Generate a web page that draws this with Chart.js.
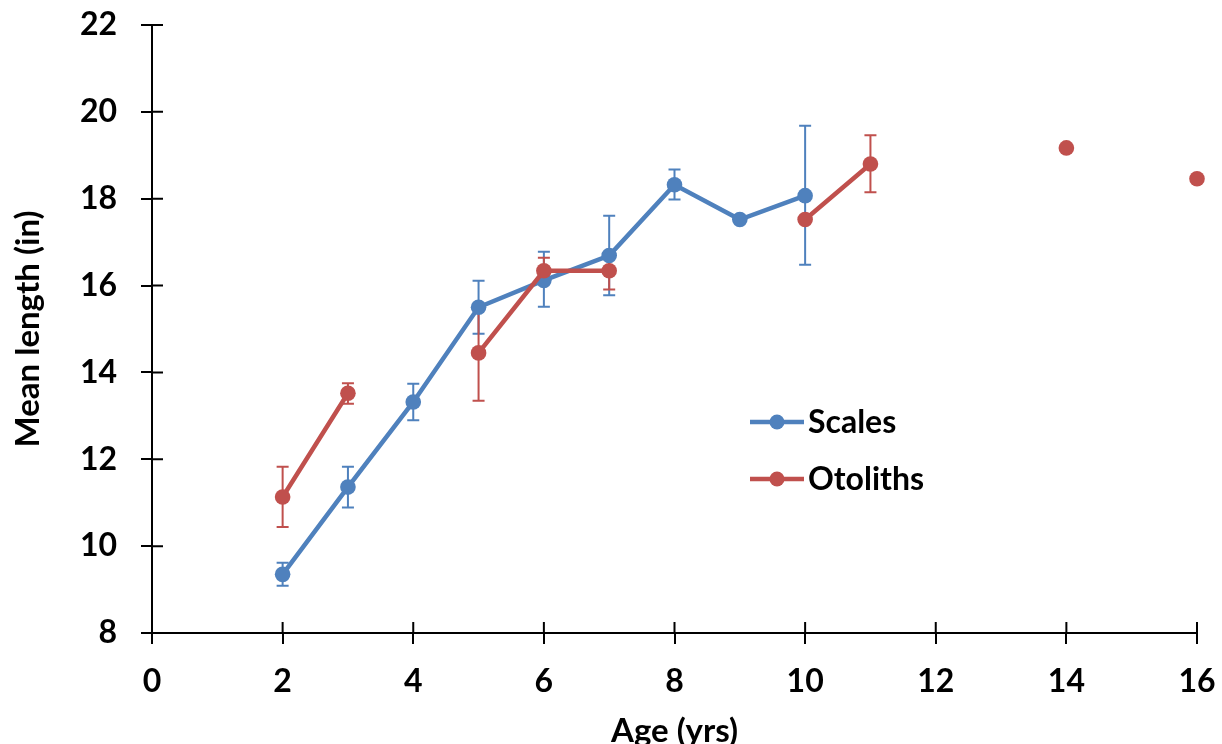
<!DOCTYPE html>
<html>
<head>
<meta charset="utf-8">
<script src="https://cdn.jsdelivr.net/npm/chart.js@4/dist/chart.umd.min.js"></script>
<style>
  body { margin: 0; background: #fff; }
</style>
</head>
<body>
<canvas id="grafico" width="1222" height="744"></canvas>
<script>
// Escamas: edad, longitud media y extremos de la barra de error
const edadesEscamas = [2, 3, 4, 5, 6, 7, 8, 9, 10];
const mediaEscamas = [9.35, 11.36, 13.32, 15.50, 16.12, 16.69, 18.32, 17.52, 18.07];
const bajoEscamas = [9.09, 10.89, 12.90, 14.89, 15.51, 15.78, 17.98, null, 16.48];
const altoEscamas = [9.62, 11.83, 13.74, 16.11, 16.78, 17.61, 18.67, null, 19.68];

// Otolitos: los null cortan la línea entre edades sin dato
const edadesOtolitos = [2, 3, 4, 5, 6, 7, 8, 10, 11, 12, 14, 15, 16];
const mediaOtolitos = [11.13, 13.52, null, 14.45, 16.34, 16.34, null, 17.52, 18.80, null, 19.17, null, 18.46];
const bajoOtolitos = [10.44, 13.28, null, 13.35, 16.04, 15.91, null, null, 18.15, null, null, null, null];
const altoOtolitos = [11.83, 13.75, null, 15.55, 16.64, 16.77, null, null, 19.46, null, null, null, null];

// Marcas de los ejes
const marcasX = [0, 2, 4, 6, 8, 10, 12, 14, 16];
const marcasY = [8, 10, 12, 14, 16, 18, 20, 22];

const AZUL = '#4F81BD';
const ROJO = '#C0504D';
const FUENTE = 'Lato, "Liberation Sans", sans-serif';

function puntos(edades, medias) {
    return edades.map((e, i) => ({ x: e, y: medias[i] }));
}

// Dibuja las barras de error de cada serie usando las escalas del gráfico
const barrasError = {
    id: 'barrasError',
    beforeDatasetsDraw(chart) {
        const ctx = chart.ctx;
        const sx = chart.scales.x, sy = chart.scales.y;
        ctx.save();
        chart.data.datasets.forEach(ds => {
            ctx.strokeStyle = ds.borderColor;
            ctx.lineWidth = 2;
            ds.data.forEach((p, i) => {
                const lo = ds.bajo[i], hi = ds.alto[i];
                if (lo == null || hi == null) return;
                const px = sx.getPixelForValue(p.x);
                const y1 = sy.getPixelForValue(lo);
                const y2 = sy.getPixelForValue(hi);
                ctx.beginPath();
                ctx.moveTo(px, y1); ctx.lineTo(px, y2);
                ctx.moveTo(px - 6, y1); ctx.lineTo(px + 6, y1);
                ctx.moveTo(px - 6, y2); ctx.lineTo(px + 6, y2);
                ctx.stroke();
            });
        });
        ctx.restore();
    }
};

// Parte interior de las marcas (cruzan el eje)
const marcasInteriores = {
    id: 'marcasInteriores',
    beforeDatasetsDraw(chart) {
        const ctx = chart.ctx;
        const sx = chart.scales.x, sy = chart.scales.y;
        const area = chart.chartArea;
        ctx.save();
        ctx.strokeStyle = '#000';
        ctx.lineWidth = 2;
        ctx.beginPath();
        sx.ticks.forEach(t => {
            const px = sx.getPixelForValue(t.value);
            ctx.moveTo(px, area.bottom); ctx.lineTo(px, area.bottom - 11);
        });
        sy.ticks.forEach(t => {
            const py = sy.getPixelForValue(t.value);
            ctx.moveTo(area.left, py); ctx.lineTo(area.left + 11, py);
        });
        ctx.stroke();
        ctx.restore();
    }
};

// Leyenda dentro del área del gráfico
const leyenda = {
    id: 'leyenda',
    afterDraw(chart) {
        const ctx = chart.ctx;
        ctx.save();
        chart.data.datasets.forEach((ds, i) => {
            const yy = 422 + i * 57;
            ctx.strokeStyle = ds.borderColor;
            ctx.lineWidth = 4.5;
            ctx.beginPath();
            ctx.moveTo(750, yy); ctx.lineTo(804, yy);
            ctx.stroke();
            ctx.fillStyle = ds.borderColor;
            ctx.beginPath();
            ctx.arc(777, yy, 7.5, 0, Math.PI * 2);
            ctx.fill();
            ctx.fillStyle = '#000';
            ctx.font = 'bold 32px ' + FUENTE;
            ctx.textBaseline = 'middle';
            ctx.fillText(ds.label, 808, yy + 1);
        });
        ctx.restore();
    }
};

const ctx = document.getElementById('grafico').getContext('2d');
const grafico = new Chart(ctx, {
    type: 'line',
    data: {
        datasets: [{
            label: 'Scales',
            data: puntos(edadesEscamas, mediaEscamas),
            bajo: bajoEscamas,
            alto: altoEscamas,
            borderColor: AZUL,
            backgroundColor: AZUL,
            pointBackgroundColor: AZUL,
            borderWidth: 4.5,
            pointRadius: 7.8,
            pointBorderWidth: 0,
            clip: false,
            order: 1
        }, {
            label: 'Otoliths',
            data: puntos(edadesOtolitos, mediaOtolitos),
            bajo: bajoOtolitos,
            alto: altoOtolitos,
            borderColor: ROJO,
            backgroundColor: ROJO,
            pointBackgroundColor: ROJO,
            borderWidth: 4.5,
            pointRadius: 7.8,
            pointBorderWidth: 0,
            clip: false,
            order: 0
        }]
    },
    options: {
        responsive: false,
        animation: false,
        devicePixelRatio: 1,
        layout: { padding: { top: 25, right: 25, left: 0, bottom: 0 } },
        plugins: {
            legend: { display: false },
            tooltip: { enabled: false }
        },
        scales: {
            x: {
                type: 'linear',
                min: 0,
                max: 16,
                afterBuildTicks: s => { s.ticks = marcasX.map(v => ({ value: v })); },
                afterFit: s => { s.height = 111; s.paddingLeft = 0; s.paddingRight = 0; },
                ticks: {
                    color: '#000',
                    padding: 18,
                    font: { family: FUENTE, size: 32, weight: 'bold' }
                },
                grid: { drawOnChartArea: false, tickLength: 11, color: '#000', lineWidth: 2 },
                border: { color: '#000', width: 2 },
                title: {
                    display: true,
                    text: 'Age (yrs)',
                    color: '#000',
                    padding: 0,
                    font: { family: FUENTE, size: 33, weight: 'bold', lineHeight: 0.75 }
                }
            },
            y: {
                min: 8,
                max: 22,
                afterBuildTicks: s => { s.ticks = marcasY.map(v => ({ value: v })); },
                afterFit: s => { s.width = 152; s.paddingTop = 0; s.paddingBottom = 0; },
                ticks: {
                    color: '#000',
                    padding: 24,
                    font: { family: FUENTE, size: 32, weight: 'bold' }
                },
                grid: { drawOnChartArea: false, tickLength: 11, color: '#000', lineWidth: 2 },
                border: { color: '#000', width: 2 },
                title: {
                    display: true,
                    text: 'Mean length (in)',
                    color: '#000',
                    padding: { top: 9, bottom: 0 },
                    font: { family: FUENTE, size: 33, weight: 'bold' }
                }
            }
        }
    },
    plugins: [barrasError, marcasInteriores, leyenda]
});
</script>
</body>
</html>
